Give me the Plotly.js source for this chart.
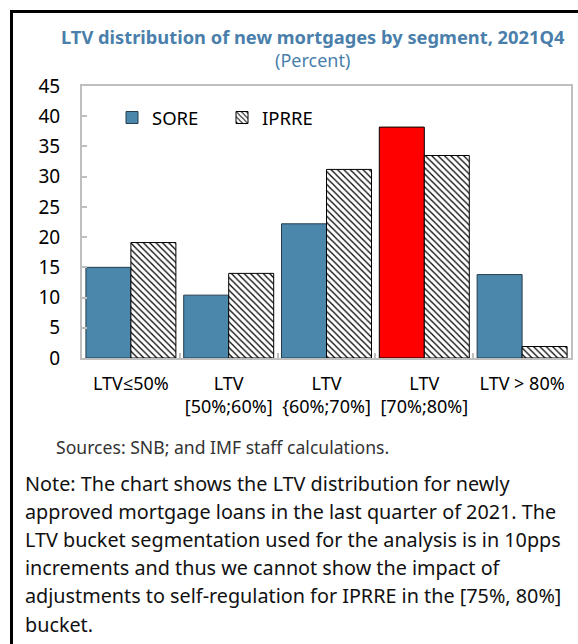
<!DOCTYPE html>
<html>
<head>
<meta charset="utf-8">
<script src="https://cdn.plot.ly/plotly-3.0.1.min.js"></script>
<style>html,body{margin:0;padding:0;background:#fff;} #chart{width:578px;height:644px;}</style>
</head>
<body>
<div id="chart"></div>
<script>
const categories = ["LTV≤50%", "LTV<br>[50%;60%]", "LTV<br>{60%;70%]", "LTV<br>[70%;80%]", "LTV > 80%"];
const soreValues = [15.0, 10.4, 22.2, 38.2, 13.8];
const iprreValues = [19.1, 14.0, 31.2, 33.5, 1.9];
const seriesNames = ["SORE", "IPRRE"];
const titleText = "LTV distribution of new mortgages by segment, 2021Q4";
const subtitleText = "(Percent)";
const sourceText = "Sources: SNB; and IMF staff calculations.";
const noteLines = [
  "Note: The chart shows the LTV distribution for newly",
  "approved mortgage loans in the last quarter of 2021. The",
  "LTV bucket segmentation used for the analysis is in 10pps",
  "increments and thus we cannot show the impact of",
  "adjustments to self-regulation for IPRRE in the [75%, 80%]",
  "bucket."
];

const FONT = "Noto Sans, Open Sans, sans-serif";
const L = 82, R = 571, T = 86, B = 358;
const W = 578, H = 644;
const xp = px => (px - L) / (R - L);
const yp = py => (B - py) / (B - T);

const blue = "#4a87ab";
const soreColors = soreValues.map((v, i) => i === 3 ? "#ff0000" : blue);
const soreLines = soreValues.map((v, i) => i === 3 ? "#000000" : "#263d4d");

const traces = [
  {
    type: "bar", name: seriesNames[0], x: categories, y: soreValues,
    marker: {
      color: soreColors,
      line: {color: soreLines, width: 1}
    },
    hoverinfo: "skip"
  },
  {
    type: "bar", name: seriesNames[1], x: categories, y: iprreValues,
    marker: {
      color: "#ffffff",
      line: {color: "#000000", width: 1},
      pattern: {shape: "\\", fgcolor: "#000000", bgcolor: "#ffffff", size: 4.5, solidity: 0.28}
    },
    hoverinfo: "skip"
  }
];

const annotations = [
  {text: "<b>" + titleText + "</b>", x: xp(313), y: yp(37), xref: "paper", yref: "paper",
   xanchor: "center", yanchor: "middle", showarrow: false, font: {family: FONT, size: 18.3, color: "#4a7fab"}},
  {text: subtitleText, x: xp(312), y: yp(60), xref: "paper", yref: "paper",
   xanchor: "center", yanchor: "middle", showarrow: false, font: {family: FONT, size: 18, color: "#4a7fab"}},
  {text: sourceText, x: xp(54), y: yp(447), xref: "paper", yref: "paper",
   xanchor: "left", yanchor: "middle", showarrow: false, font: {family: FONT, size: 17.6, color: "#333333"}}
];
noteLines.forEach((line, i) => {
  annotations.push({text: line, x: xp(23), y: yp(483 + i * 28.2), xref: "paper", yref: "paper",
    xanchor: "left", yanchor: "middle", showarrow: false, font: {family: FONT, size: 19.8, color: "#111111"}});
});

const shapes = [
  {type: "line", xref: "paper", yref: "paper", x0: xp(11.5), x1: xp(11.5), y0: yp(10), y1: yp(H + 5), line: {color: "#000", width: 3}},
  {type: "line", xref: "paper", yref: "paper", x0: xp(10), x1: xp(W + 5), y0: yp(11.5), y1: yp(11.5), line: {color: "#000", width: 3}}
];

const layout = {
  width: W, height: H,
  margin: {l: L, r: W - R, t: T, b: H - B, pad: 0},
  paper_bgcolor: "#ffffff", plot_bgcolor: "#ffffff",
  font: {family: FONT, size: 18, color: "#000"},
  barmode: "group", bargap: 0.08, bargroupgap: 0,
  showlegend: true,
  legend: {orientation: "h", x: xp(112), y: yp(118), xanchor: "left", yanchor: "middle",
    bgcolor: "rgba(0,0,0,0)", font: {family: FONT, size: 18.5, color: "#000"},
    entrywidth: 65, entrywidthmode: "pixels", itemwidth: 30, traceorder: "normal"},
  xaxis: {
    type: "category", showline: true, mirror: true, linecolor: "#bfbfbf", linewidth: 2,
    ticks: "inside", tickson: "boundaries", ticklen: 5, tickcolor: "#bfbfbf", tickwidth: 2,
    tickangle: 0, ticklabelstandoff: 8,
    tickfont: {family: FONT, size: 18, color: "#000"}, showgrid: false, zeroline: false,
    fixedrange: true
  },
  yaxis: {
    range: [0, 45], dtick: 5, tick0: 0, showline: true, mirror: true, linecolor: "#bfbfbf", linewidth: 2,
    ticks: "inside", ticklen: 5, tickcolor: "#bfbfbf", tickwidth: 2, ticklabelstandoff: 16,
    tickfont: {family: FONT, size: 19, color: "#000"}, showgrid: false, zeroline: false,
    fixedrange: true
  },
  annotations: annotations,
  shapes: shapes
};

Plotly.newPlot("chart", traces, layout, {displayModeBar: false, staticPlot: true});
</script>
</body>
</html>
